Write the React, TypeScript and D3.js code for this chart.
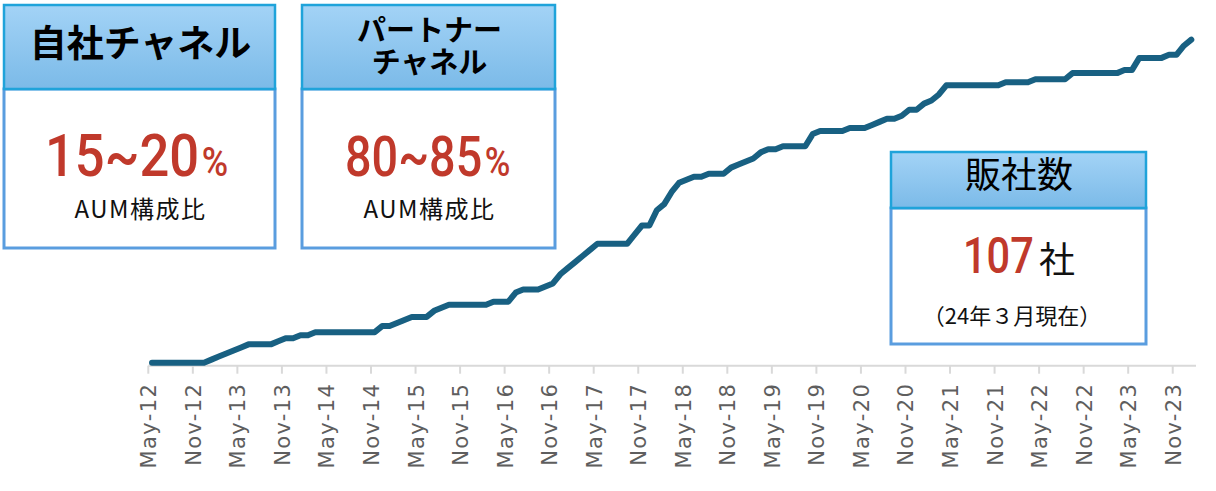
import React, { useEffect, useRef } from "react";
import * as d3 from "d3";

// monthly count of distributors, May-12 onwards
const sellerCounts = [
  1, 1, 1, 1, 1, 1, 1, 1, 2, 3, 4, 5,
  6, 7, 7, 7, 7, 8, 9, 9, 10, 10, 11, 11,
  11, 11, 11, 11, 11, 11, 11, 13, 13, 14, 15, 16,
  16, 16, 18, 19, 20, 20, 20, 20, 20, 20, 21, 21,
  21, 24, 25, 25, 25, 26, 27, 30, 32, 34, 36, 38,
  40, 40, 40, 40, 40, 43, 46, 46, 51, 53, 57, 60,
  61, 62, 62, 63, 63, 63, 65, 66, 67, 68, 70, 71,
  71, 72, 72, 72, 72, 76, 77, 77, 77, 77, 78, 78,
  78, 79, 80, 81, 81, 82, 84, 84, 86, 87, 89, 92,
  92, 92, 92, 92, 92, 92, 92, 93, 93, 93, 93, 94,
  94, 94, 94, 94, 96, 96, 96, 96, 96, 96, 96, 97,
  97, 101, 101, 101, 101, 102, 102, 105, 107,
];

const tickLabels = [
  "May-12", "Nov-12", "May-13", "Nov-13", "May-14", "Nov-14",
  "May-15", "Nov-15", "May-16", "Nov-16", "May-17", "Nov-17",
  "May-18", "Nov-18", "May-19", "Nov-19", "May-20", "Nov-20",
  "May-21", "Nov-21", "May-22", "Nov-22", "May-23", "Nov-23",
];

const channelTitles = [["自社チャネル"], ["パートナー", "チャネル"]];
const channelShares = ["15~20", "80~85"];
const shareCaption = "AUM構成比";
const sellerTitle = "販社数";
const sellerTotal = "107";
const sellerNote = "（24年３月現在）";

const RED = "#c0392b";
const JP = "'Noto Sans CJK JP', 'Noto Sans', sans-serif";
const NUM = "Roboto, 'DejaVu Sans', sans-serif";

const App = () => {
  const ref = useRef(null);

  useEffect(() => {
    if (!ref.current) return;
    const svg = d3.select(ref.current);
    svg.selectAll("*").remove();

    const defs = svg.append("defs");
    const grad = defs
      .append("linearGradient")
      .attr("id", "hdr")
      .attr("x1", 0)
      .attr("y1", 0)
      .attr("x2", 0)
      .attr("y2", 1);
    grad.append("stop").attr("offset", "0%").attr("stop-color", "#a3d3f6");
    grad.append("stop").attr("offset", "100%").attr("stop-color", "#7bbae8");

    // === chart ===
    const n = sellerCounts.length;
    const x = d3.scaleLinear().domain([0, n]).range([148.3, 1195]);
    const y = d3.scaleLinear().domain([0, 107]).range([365.7, 39.6]);

    const g = svg.append("g");

    g.append("line")
      .attr("x1", x(0))
      .attr("x2", x(n) + 1)
      .attr("y1", y(0))
      .attr("y2", y(0))
      .attr("stroke", "#d9d9d9")
      .attr("stroke-width", 2);

    const ticks = g
      .selectAll("g.tick")
      .data(tickLabels)
      .join("g")
      .attr("class", "tick")
      .attr("transform", (d, i) => `translate(${x(i * 6)},${y(0)})`);

    ticks
      .append("line")
      .attr("y1", 0)
      .attr("y2", 8)
      .attr("stroke", "#d9d9d9")
      .attr("stroke-width", 2);

    ticks
      .append("text")
      .attr("transform", "translate(0,17) rotate(-90)")
      .attr("dy", "0.38em")
      .attr("text-anchor", "end")
      .style("font-family", "'DejaVu Sans', sans-serif")
      .style("font-size", "21px")
      .style("letter-spacing", "1.4px")
      .style("fill", "#5e5e5e")
      .text((d) => d);

    const line = d3
      .line()
      .x((d, i) => x(i + 0.5))
      .y((d) => y(d));

    g.append("path")
      .datum(sellerCounts)
      .attr("d", line)
      .attr("fill", "none")
      .attr("stroke", "#186082")
      .attr("stroke-width", 6)
      .attr("stroke-linejoin", "round")
      .attr("stroke-linecap", "round");

    // === boxes ===
    const box = (x0, x1, top, mid, bottom) => {
      const b = svg.append("g");
      b.append("rect")
        .attr("x", x0)
        .attr("y", mid)
        .attr("width", x1 - x0)
        .attr("height", bottom - mid)
        .attr("fill", "#fff")
        .attr("stroke", "#5a9ddf")
        .attr("stroke-width", 3);
      b.append("rect")
        .attr("x", x0)
        .attr("y", top)
        .attr("width", x1 - x0)
        .attr("height", mid - top)
        .attr("fill", "url(#hdr)")
        .attr("stroke", "#1fa3da")
        .attr("stroke-width", 2.5);
      return b;
    };

    const channelBoxes = [
      { x0: 4, x1: 275, size: 60, sx: 0.875, left: 45 },
      { x0: 302, x1: 555, size: 55, sx: 0.85, left: 345 },
    ];

    channelBoxes.forEach((c, k) => {
      const b = box(c.x0, c.x1, 5, 89, 248);
      const cx = (c.x0 + c.x1) / 2;
      const lines = channelTitles[k];

      // header title, one or two lines in a single text
      const title = b
        .append("text")
        .attr("text-anchor", "middle")
        .style("font-family", JP)
        .style("font-weight", 700)
        .style("font-size", lines.length === 1 ? "37px" : "29px")
        .style("fill", "#000");
      title
        .selectAll("tspan")
        .data(lines)
        .join("tspan")
        .attr("x", cx + 1)
        .attr("y", (d, i) => (lines.length === 1 ? 57 : 41 + i * 32))
        .text((d) => d);

      // condensed figure: number + smaller percent sign
      const t = b
        .append("text")
        .attr("transform", `translate(${c.left},176) scale(${c.sx},1)`)
        .style("font-family", NUM)
        .style("font-weight", 500)
        .style("fill", RED);
      t.append("tspan").style("font-size", `${c.size}px`).text(channelShares[k]);
      t.append("tspan").attr("dx", 3).style("font-size", "41px").text("%");

      b.append("text")
        .attr("x", cx + 1)
        .attr("y", 218)
        .attr("text-anchor", "middle")
        .style("font-family", JP)
        .style("font-size", "24px")
        .style("letter-spacing", "1.5px")
        .style("fill", "#111")
        .text(shareCaption);
    });

    const b3 = box(891, 1146, 152, 208, 344);
    b3.append("text")
      .attr("x", 1019)
      .attr("y", 188)
      .attr("text-anchor", "middle")
      .style("font-family", JP)
      .style("font-size", "36px")
      .style("fill", "#000")
      .text(sellerTitle);

    b3.append("text")
      .attr("transform", "translate(963,273) scale(0.83,1)")
      .style("font-family", NUM)
      .style("font-weight", 500)
      .style("font-size", "50px")
      .style("fill", RED)
      .text(sellerTotal);

    b3.append("text")
      .attr("x", 1039)
      .attr("y", 273)
      .style("font-family", JP)
      .style("font-size", "36px")
      .style("fill", "#111")
      .text("社");

    b3.append("text")
      .attr("x", 1012)
      .attr("y", 324)
      .attr("text-anchor", "middle")
      .style("font-family", JP)
      .style("font-size", "22px")
      .style("fill", "#111")
      .text(sellerNote);
  }, []);

  return (
    <svg
      ref={ref}
      width={1216}
      height={491}
      style={{ position: "absolute", left: 0, top: 0, background: "#fff" }}
    ></svg>
  );
};

export default App;
